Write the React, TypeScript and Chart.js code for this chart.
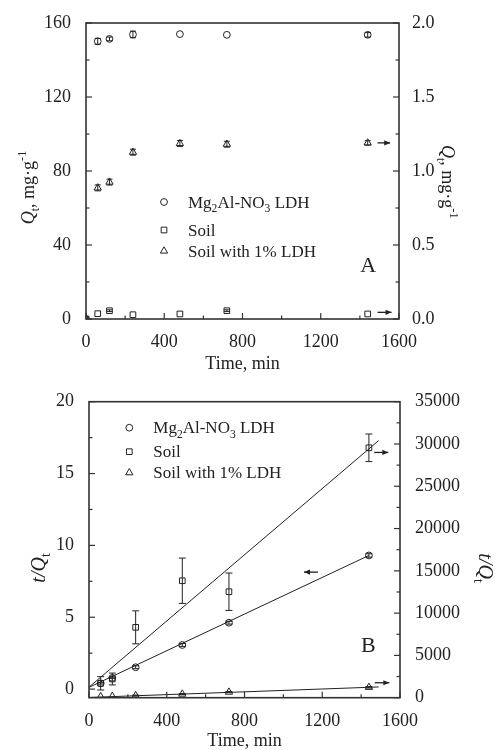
import React, { useEffect, useRef } from 'react';
import { Chart, registerables } from 'chart.js';

Chart.register(...registerables);

const FONT = "'Liberation Serif', 'Times New Roman', serif";
const INK = '#222222';

// ---------- Series names ----------
const seriesNames = ['Mg₂Al-NO₃ LDH', 'Soil', 'Soil with 1% LDH'];

// ---------- Panel A: Qt vs time ----------
const timeA = [0, 60, 120, 240, 480, 720, 1440];
const ldhQt = [0, 150.1, 151.4, 153.8, 154.0, 153.6, 153.6];
const ldhQtErr = [0, 1.6, 1.0, 1.8, 0, 0, 1.2];
const soilQt = [0, 0.036, 0.056, 0.029, 0.034, 0.056, 0.034];
const soilQtErr = [0, 0, 0.006, 0, 0, 0.006, 0];
const mixQt = [0, 0.886, 0.925, 1.127, 1.186, 1.181, 1.19];
const mixQtErr = [0, 0.02, 0.02, 0.02, 0.02, 0.02, 0.015];

const xTicks = [0, 400, 800, 1200, 1600];
const leftTicksA = [0, 40, 80, 120, 160];
const rightTicksA = [0, 0.5, 1.0, 1.5, 2.0];

// ---------- Panel B: t/Qt vs time ----------
const timeB = [60, 120, 240, 480, 720, 1440];
const ldhTQ = [0.4, 0.78, 1.52, 3.07, 4.62, 9.3];
const ldhTQErr = [0.05, 0.05, 0.1, 0.1, 0.1, 0.12];
const soilTQ = [1700, 2210, 8320, 13830, 12530, 29550];
const soilTQErr = [790, 700, 1950, 2680, 2210, 1630];
const mixTQ = [130, 170, 250, 430, 660, 1230];
const mixTQErr = [0, 0, 60, 60, 60, 90];

const fitLdhT = [0, 1440];
const fitLdhV = [0.12, 9.3];
const fitSoilT = [0, 1490];
const fitSoilV = [1250, 30400];
const fitMixT = [0, 1490];
const fitMixV = [30, 1270];

const leftTicksB = [0, 5, 10, 15, 20];
const rightTicksB = [0, 5000, 10000, 15000, 20000, 25000, 30000, 35000];

// ---------- helpers ----------
type Seg = { t: string; i?: boolean; sub?: boolean; sup?: boolean };

const SUBS: Record<string, string> = { '₀': '0', '₁': '1', '₂': '2', '₃': '3', '₄': '4', '₅': '5', '₆': '6', '₇': '7', '₈': '8', '₉': '9' };

function parseLabel(label: string): Seg[] {
  const segs: Seg[] = [];
  for (const ch of label) {
    const sub = SUBS[ch] !== undefined;
    const t = sub ? SUBS[ch] : ch;
    const last = segs[segs.length - 1];
    if (last && !!last.sub === sub) last.t += t;
    else segs.push({ t, sub });
  }
  return segs;
}

function drawRich(ctx: CanvasRenderingContext2D, segs: Seg[], x: number, y: number, size: number, rot = 0, align: 'left' | 'center' = 'center') {
  ctx.save();
  ctx.translate(x, y);
  if (rot) ctx.rotate(rot);
  const parts = segs.map((s) => {
    const fs = s.sub || s.sup ? size * 0.68 : size;
    const font = `${s.i ? 'italic ' : ''}${fs}px ${FONT}`;
    ctx.font = font;
    return { t: s.t, font, w: ctx.measureText(s.t).width, dy: s.sub ? size * 0.28 : s.sup ? -size * 0.42 : 0 };
  });
  const total = parts.reduce((a, p) => a + p.w, 0);
  let cx = align === 'center' ? -total / 2 : 0;
  ctx.fillStyle = INK;
  ctx.textBaseline = 'alphabetic';
  const base = size * 0.33;
  for (const p of parts) {
    ctx.font = p.font;
    ctx.fillText(p.t, cx, base + p.dy);
    cx += p.w;
  }
  ctx.restore();
}

function drawMarker(ctx: CanvasRenderingContext2D, style: string, x: number, y: number, r: number) {
  ctx.save();
  ctx.strokeStyle = INK;
  ctx.lineWidth = 1;
  ctx.beginPath();
  if (style === 'rect') {
    const s = Math.SQRT1_2 * r;
    ctx.rect(x - s, y - s, 2 * s, 2 * s);
  } else if (style === 'triangle') {
    let a = 0;
    ctx.moveTo(x + Math.sin(a) * r, y - Math.cos(a) * r);
    a += (2 * Math.PI) / 3;
    ctx.lineTo(x + Math.sin(a) * r, y - Math.cos(a) * r);
    a += (2 * Math.PI) / 3;
    ctx.lineTo(x + Math.sin(a) * r, y - Math.cos(a) * r);
    ctx.closePath();
  } else {
    ctx.arc(x, y, r, 0, Math.PI * 2);
  }
  ctx.stroke();
  ctx.restore();
}

// ---------- plugins ----------
const frameTicks = {
  id: 'frameTicks',
  afterDraw(chart: any, _a: any, o: any) {
    const { ctx, chartArea: ca } = chart;
    ctx.save();
    ctx.strokeStyle = '#333';
    ctx.lineWidth = 1.2;
    for (const id of Object.keys(chart.scales)) {
      const s = chart.scales[id];
      const major: number[] = s.ticks.map((t: any) => t.value);
      const minor: number[] = [];
      for (let k = 0; k < major.length - 1; k++) minor.push((major[k] + major[k + 1]) / 2);
      const draw = (v: number, len: number) => {
        const p = s.getPixelForValue(v);
        ctx.beginPath();
        if (s.isHorizontal()) {
          ctx.moveTo(p, ca.bottom);
          ctx.lineTo(p, ca.bottom - len);
        } else if (s.position === 'left') {
          ctx.moveTo(ca.left, p);
          ctx.lineTo(ca.left + len, p);
        } else {
          ctx.moveTo(ca.right, p);
          ctx.lineTo(ca.right - len, p);
        }
        ctx.stroke();
      };
      major.forEach((v) => draw(v, o.major));
      minor.forEach((v) => draw(v, o.minor));
    }
    ctx.lineWidth = 1.6;
    ctx.strokeRect(ca.left, ca.top, ca.right - ca.left, ca.bottom - ca.top);
    ctx.restore();
  },
};

const errorBars = {
  id: 'errorBars',
  afterDatasetsDraw(chart: any, _a: any, o: any) {
    const ctx = chart.ctx;
    chart.data.datasets.forEach((ds: any, i: number) => {
      if (!ds.errors) return;
      const meta = chart.getDatasetMeta(i);
      const ys = chart.scales[ds.yAxisID];
      ctx.save();
      ctx.strokeStyle = INK;
      ctx.lineWidth = 1;
      meta.data.forEach((el: any, j: number) => {
        const e = ds.errors[j];
        if (!e) return;
        const v = ds.data[j].y;
        const yt = ys.getPixelForValue(v + e);
        const yb = ys.getPixelForValue(v - e);
        ctx.beginPath();
        ctx.moveTo(el.x, yt);
        ctx.lineTo(el.x, yb);
        ctx.moveTo(el.x - o.cap, yt);
        ctx.lineTo(el.x + o.cap, yt);
        ctx.moveTo(el.x - o.cap, yb);
        ctx.lineTo(el.x + o.cap, yb);
        ctx.stroke();
      });
      ctx.restore();
    });
  },
};

const arrows = {
  id: 'arrows',
  afterDatasetsDraw(chart: any, _a: any, o: any) {
    const ctx = chart.ctx;
    const xs = chart.scales.x;
    ctx.save();
    ctx.strokeStyle = INK;
    ctx.fillStyle = INK;
    ctx.lineWidth = 1.3;
    for (const a of o.items) {
      const ys = chart.scales[a.axis];
      const x1 = xs.getPixelForValue(a.x1);
      const x2 = xs.getPixelForValue(a.x2);
      const y = ys.getPixelForValue(a.y);
      const tip = a.dir === 'right' ? x2 : x1;
      const back = a.dir === 'right' ? -6 : 6;
      ctx.beginPath();
      ctx.moveTo(x1, y);
      ctx.lineTo(x2, y);
      ctx.stroke();
      ctx.beginPath();
      ctx.moveTo(tip, y);
      ctx.lineTo(tip + back, y - 2.6);
      ctx.lineTo(tip + back, y + 2.6);
      ctx.closePath();
      ctx.fill();
    }
    ctx.restore();
  },
};

const inLegend = {
  id: 'inLegend',
  afterDraw(chart: any, _a: any, o: any) {
    const ctx = chart.ctx;
    let row = 0;
    chart.data.datasets.forEach((ds: any) => {
      if (!ds.inLegend) return;
      const y = o.y + o.rows[row++];
      drawMarker(ctx, ds.pointStyle, o.x, y, ds.pointRadius);
      drawRich(ctx, parseLabel(ds.label), o.x + o.gap, y, o.size, 0, 'left');
    });
  },
};

const richText = {
  id: 'richText',
  afterDraw(chart: any, _a: any, o: any) {
    for (const it of o.items) drawRich(chart.ctx, it.segs, it.x, it.y, it.size, it.rot || 0, 'center');
  },
};

const titleQ: Seg[] = [{ t: 'Q', i: true }, { t: 't', sub: true }, { t: ', mg·g' }, { t: '-1', sup: true }];
const titleTQ: Seg[] = [{ t: 't/Q', i: true }, { t: 't', sub: true }];

const tickFont = { family: FONT, size: 18 };

function pts(xs: number[], ys: number[]) {
  return xs.map((x, i) => ({ x, y: ys[i] }));
}

function markerDs(label: string, data: any, axis: string, style: string, r: number, errors: number[]) {
  return {
    label,
    data,
    yAxisID: axis,
    pointStyle: style,
    pointRadius: r,
    pointBorderWidth: 1,
    pointBorderColor: INK,
    pointBackgroundColor: 'rgba(0,0,0,0)',
    borderColor: INK,
    backgroundColor: 'rgba(0,0,0,0)',
    showLine: false,
    errors,
    inLegend: true,
  };
}

function fitDs(label: string, data: any, axis: string) {
  return {
    label,
    data,
    yAxisID: axis,
    showLine: true,
    pointRadius: 0,
    borderColor: INK,
    borderWidth: 1,
    fill: false,
  };
}

function xScale(height: number, pad: number, titlePad: number) {
  return {
    type: 'linear',
    min: 0,
    max: 1600,
    afterBuildTicks: (s: any) => {
      s.ticks = xTicks.map((v) => ({ value: v }));
    },
    afterFit: (s: any) => {
      s.height = height;
    },
    grid: { display: false },
    border: { display: false },
    ticks: { font: tickFont, color: INK, padding: pad, maxRotation: 0, callback: (v: any) => String(v) },
    title: { display: true, text: 'Time, min', font: { family: FONT, size: 18, lineHeight: 1 }, color: INK, padding: { top: 0, bottom: titlePad } },
  };
}

function yScale(pos: string, min: number, max: number, ticks: number[], width: number, pad: number, fmt: (v: number) => string) {
  return {
    type: 'linear',
    position: pos,
    min,
    max,
    afterBuildTicks: (s: any) => {
      s.ticks = ticks.map((v) => ({ value: v }));
    },
    afterFit: (s: any) => {
      s.width = width;
    },
    grid: { display: false },
    border: { display: false },
    ticks: { font: tickFont, color: INK, padding: pad, callback: (v: any) => fmt(Number(v)) },
  };
}

function configA(): any {
  return {
    type: 'scatter',
    data: {
      datasets: [
        markerDs(seriesNames[0], pts(timeA, ldhQt), 'y', 'circle', 3.4, ldhQtErr),
        markerDs(seriesNames[1], pts(timeA, soilQt), 'y2', 'rect', 4, soilQtErr),
        markerDs(seriesNames[2], pts(timeA, mixQt), 'y2', 'triangle', 4.2, mixQtErr),
      ],
    },
    options: {
      responsive: false,
      animation: false,
      layout: { padding: { top: 23, left: 0, right: 0, bottom: 0 } },
      plugins: {
        legend: { display: false },
        tooltip: { enabled: false },
        frameTicks: { major: 6, minor: 3.5 },
        errorBars: { cap: 3 },
        arrows: {
          items: [
            { x1: 1490, x2: 1555, y: 1.19, axis: 'y2', dir: 'right' },
            { x1: 1490, x2: 1562, y: 0.045, axis: 'y2', dir: 'right' },
          ],
        },
        inLegend: { x: 164, y: 202, rows: [0, 28, 49], gap: 24, size: 17 },
        richText: {
          items: [
            { segs: titleQ, x: 28, y: 187.5, size: 18, rot: -Math.PI / 2 },
            { segs: titleQ, x: 448, y: 181.7, size: 18, rot: Math.PI / 2 },
            { segs: [{ t: 'A' }], x: 368.3, y: 265, size: 22 },
          ],
        },
      },
      scales: {
        x: xScale(56, 4, 2),
        y: yScale('left', 0, 160, leftTicksA, 86, 7, (v) => String(v)),
        y2: yScale('right', 0, 2, rightTicksA, 96, 5, (v) => v.toFixed(1)),
      },
    },
    plugins: [errorBars, arrows, frameTicks, inLegend, richText],
  };
}

function configB(): any {
  return {
    type: 'scatter',
    data: {
      datasets: [
        markerDs(seriesNames[0], pts(timeB, ldhTQ), 'y', 'circle', 3.4, ldhTQErr),
        markerDs(seriesNames[1], pts(timeB, soilTQ), 'y2', 'rect', 4, soilTQErr),
        markerDs(seriesNames[2], pts(timeB, mixTQ), 'y2', 'triangle', 4.2, mixTQErr),
        fitDs('Fit: ' + seriesNames[0], pts(fitLdhT, fitLdhV), 'y'),
        fitDs('Fit: ' + seriesNames[1], pts(fitSoilT, fitSoilV), 'y2'),
        fitDs('Fit: ' + seriesNames[2], pts(fitMixT, fitMixV), 'y2'),
      ],
    },
    options: {
      responsive: false,
      animation: false,
      layout: { padding: { top: 26.7, left: 0, right: 0, bottom: 0 } },
      plugins: {
        legend: { display: false },
        tooltip: { enabled: false },
        frameTicks: { major: 6, minor: 3.5 },
        errorBars: { cap: 3.5 },
        arrows: {
          items: [
            { x1: 1467, x2: 1540, y: 29000, axis: 'y2', dir: 'right' },
            { x1: 1106, x2: 1178, y: 8.14, axis: 'y', dir: 'left' },
            { x1: 1470, x2: 1545, y: 1770, axis: 'y2', dir: 'right' },
          ],
        },
        inLegend: { x: 129.3, y: 52.7, rows: [0, 24, 45], gap: 24, size: 17 },
        richText: {
          items: [
            { segs: titleTQ, x: 38, y: 193, size: 20, rot: -Math.PI / 2 },
            { segs: titleTQ, x: 486, y: 193, size: 20, rot: Math.PI / 2 },
            { segs: [{ t: 'B' }], x: 368.3, y: 269.5, size: 22 },
          ],
        },
      },
      scales: {
        x: xScale(52.3, 5, 0),
        y: yScale('left', -0.6, 20, leftTicksB, 89, 7, (v) => String(v)),
        y2: yScale('right', 0, 35000, rightTicksB, 95, 7, (v) => String(v)),
      },
    },
    plugins: [errorBars, arrows, frameTicks, inLegend, richText],
  };
}

function Panel({ make }: { make: () => any }) {
  const ref = useRef<HTMLCanvasElement | null>(null);
  useEffect(() => {
    if (!ref.current) return;
    const chart = new Chart(ref.current, make());
    return () => chart.destroy();
  }, [make]);
  return <canvas ref={ref} width={495} height={375} style={{ display: 'block', width: 495, height: 375 }} />;
}

export default function App() {
  return (
    <div style={{ position: 'absolute', left: 0, top: 0, width: 495, height: 750, background: '#fff' }}>
      <Panel make={configA} />
      <Panel make={configB} />
    </div>
  );
}
